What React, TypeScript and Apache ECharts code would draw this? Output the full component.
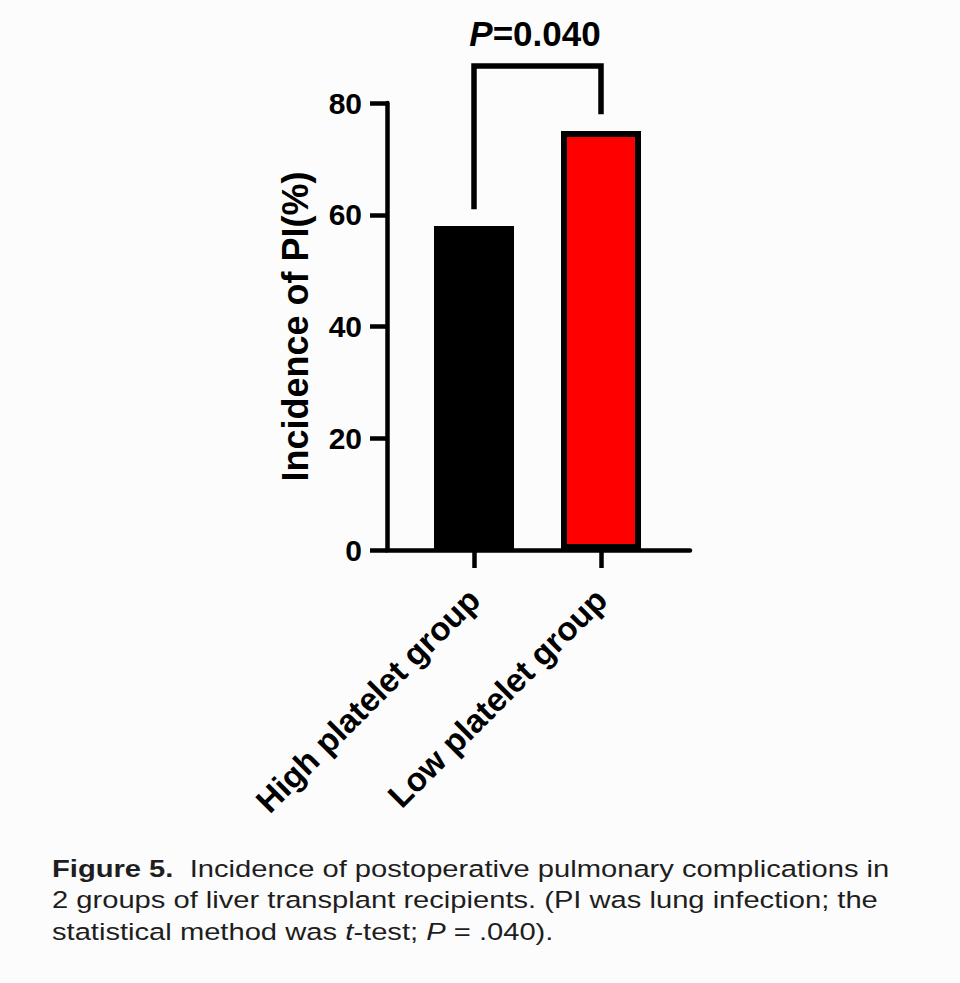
import React, { useEffect, useRef } from 'react';
import * as echarts from 'echarts';

// ---------- data ----------
const categories = ['High platelet group', 'Low platelet group'];
const incidence = [58, 75];
const barColors = ['#000000', '#ff0000'];
const yMin = 0;
const yMax = 80;
const yInterval = 20;
const yAxisName = 'Incidence of PI(%)';
// significance bracket (values on the y scale, category indexes on x)
const bracketFrom = 0;
const bracketTo = 1;
const bracketLeftBottom = 61;
const bracketTopValue = 86.6;
const bracketRightBottom = 78;
const pItalic = 'P';
const pRest = '=0.040';
const captionBold = 'Figure 5.';
const captionLine1 = '  Incidence of postoperative pulmonary complications in';
const captionLine2 = '2 groups of liver transplant recipients. (PI was lung infection; the';
const captionLine3a = 'statistical method was ';
const captionLine3t = 't';
const captionLine3b = '-test; ';
const captionLine3p = 'P';
const captionLine3c = ' = .040).';

const FONT = "'Liberation Sans', Arial, Helvetica, sans-serif";

export default function App() {
  const ref = useRef<HTMLDivElement>(null);

  useEffect(() => {
    document.body.style.margin = '0';
    const chart = echarts.init(ref.current!, null, { renderer: 'svg' });

    const capSize = 24.5;
    const capScale = 1.19;
    const captionStyle = { fontFamily: FONT, fontSize: capSize, fill: '#1e1e1e' };
    const rich = {
      b: { fontFamily: FONT, fontSize: capSize, fontWeight: 'bold', color: '#1e1e1e' },
      n: { fontFamily: FONT, fontSize: capSize, color: '#1e1e1e' },
      i: { fontFamily: FONT, fontSize: capSize, fontStyle: 'italic', color: '#1e1e1e' },
    };

    const option: any = {
      animation: false,
      backgroundColor: '#fcfcfc',
      grid: [
        { left: 387, top: 103, width: 303, height: 447, outerBoundsMode: 'none', containLabel: false },
        { left: 410.5, top: 103, width: 254, height: 447, outerBoundsMode: 'none', containLabel: false },
      ],
      xAxis: [
        {
          gridIndex: 0,
          type: 'value',
          min: 0,
          max: 1,
          axisLine: { show: true, lineStyle: { color: '#000', width: 4.5 } },
          axisTick: { show: false },
          axisLabel: { show: false },
          splitLine: { show: false },
        },
        {
          gridIndex: 1,
          type: 'category',
          data: categories,
          axisLine: { show: false },
          axisTick: { show: true, alignWithLabel: true, length: 18, lineStyle: { color: '#000', width: 4.5 } },
          axisLabel: {
            rotate: 45,
            margin: 44,
            interval: 0,
            fontFamily: FONT,
            fontSize: 33,
            fontWeight: 'bold',
            color: '#000',
          },
          splitLine: { show: false },
        },
      ],
      yAxis: [
        {
          gridIndex: 0,
          type: 'value',
          min: yMin,
          max: yMax,
          interval: yInterval,
          name: yAxisName,
          nameLocation: 'middle',
          nameGap: 74,
          nameRotate: 90,
          nameTextStyle: { fontFamily: FONT, fontSize: 36, fontWeight: 'bold', color: '#000' },
          axisLine: { show: true, lineStyle: { color: '#000', width: 4.5 } },
          axisTick: { show: true, length: 17, lineStyle: { color: '#000', width: 4.5 } },
          axisLabel: { margin: 25, fontFamily: FONT, fontSize: 30, fontWeight: 'bold', color: '#000' },
          splitLine: { show: false },
        },
        {
          gridIndex: 1,
          type: 'value',
          min: yMin,
          max: yMax,
          show: false,
        },
      ],
      series: [
        {
          type: 'bar',
          xAxisIndex: 1,
          yAxisIndex: 1,
          barWidth: 80,
          data: incidence.map((v, i) => ({
            value: v,
            itemStyle: { color: barColors[i], borderColor: '#000', borderWidth: 6 },
          })),
        },
        {
          type: 'custom',
          xAxisIndex: 1,
          yAxisIndex: 1,
          clip: false,
          data: [[bracketFrom, bracketTo]],
          renderItem: (params: any, api: any) => {
            const p1 = api.coord([bracketFrom, bracketLeftBottom]);
            const p2 = api.coord([bracketFrom, bracketTopValue]);
            const p3 = api.coord([bracketTo, bracketTopValue]);
            const p4 = api.coord([bracketTo, bracketRightBottom]);
            return {
              type: 'polyline',
              shape: { points: [p1, p2, p3, p4] },
              style: { stroke: '#000', lineWidth: 5.5, fill: 'none', lineJoin: 'miter', lineCap: 'butt' },
            };
          },
        },
      ],
      graphic: [
        {
          type: 'text',
          x: 535,
          y: 33,
          style: {
            text: `{i|${pItalic}}{n|${pRest}}`,
            align: 'center',
            verticalAlign: 'middle',
            rich: {
              i: { fontFamily: FONT, fontSize: 35, fontWeight: 'bold', fontStyle: 'italic', color: '#000' },
              n: { fontFamily: FONT, fontSize: 35, fontWeight: 'bold', color: '#000' },
            },
          },
        },
        {
          type: 'text',
          x: 52,
          y: 868.5,
          scaleX: capScale,
          style: { ...captionStyle, text: `{b|${captionBold}}{n|${captionLine1}}`, verticalAlign: 'middle', rich },
        },
        {
          type: 'text',
          x: 52,
          y: 899.5,
          scaleX: capScale,
          style: { ...captionStyle, text: `{n|${captionLine2}}`, verticalAlign: 'middle', rich },
        },
        {
          type: 'text',
          x: 52,
          y: 931.5,
          scaleX: capScale,
          style: {
            ...captionStyle,
            text: `{n|${captionLine3a}}{i|${captionLine3t}}{n|${captionLine3b}}{i|${captionLine3p}}{n|${captionLine3c}}`,
            verticalAlign: 'middle',
            rich,
          },
        },
      ],
    };

    chart.setOption(option);
    return () => chart.dispose();
  }, []);

  return (
    <div
      ref={ref}
      style={{ position: 'absolute', left: 0, top: 0, width: 960, height: 983 }}
    />
  );
}
